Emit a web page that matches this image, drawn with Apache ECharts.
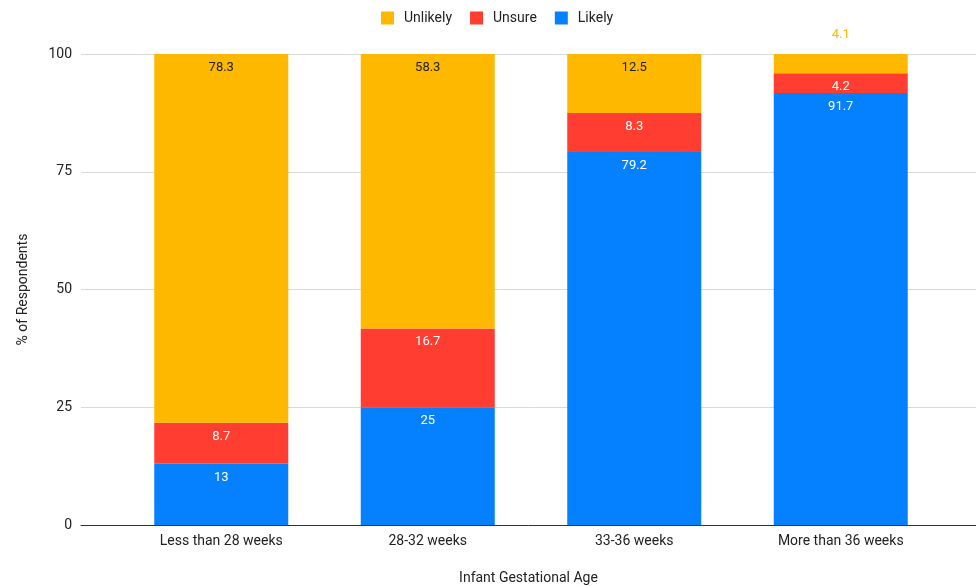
<!DOCTYPE html>
<html>
<head>
<meta charset="utf-8">
<script src="https://cdn.jsdelivr.net/npm/echarts@6/dist/echarts.min.js"></script>
<style>
  html, body { margin: 0; padding: 0; background: #fff; }
  #chart { width: 976px; height: 586px; }
</style>
</head>
<body>
<div id="chart"></div>
<script>
// Share of respondents by infant gestational age
const categories = ['Less than 28 weeks', '28-32 weeks', '33-36 weeks', 'More than 36 weeks'];
const likely = [13, 25, 79.2, 91.7];
const unsure = [8.7, 16.7, 8.3, 4.2];
const unlikely = [78.3, 58.3, 12.5, 4.1];
const yTicks = [0, 25, 50, 75, 100];

const COLORS = { unlikely: '#FFB800', unsure: '#FF3D30', likely: '#0581FF' };
const FONT = 'Roboto, "Liberation Sans", Arial, sans-serif';
const TEXT = '#222';

const chart = echarts.init(document.getElementById('chart'));

function segLabel(color) {
  return {
    show: true,
    position: 'insideTop',
    distance: 7,
    color: color,
    fontSize: 13,
    fontFamily: FONT
  };
}

// Small top segments get their value printed above the bar instead of inside it
const unlikelyData = unlikely.map(v => v < 5 ? {
  value: v,
  label: { position: 'top', distance: 13, color: COLORS.unlikely }
} : v);

chart.setOption({
  animation: false,
  textStyle: { fontFamily: FONT },
  legend: {
    top: 6,
    left: 376,
    itemWidth: 13,
    itemHeight: 13,
    itemGap: 18,
    icon: 'rect',
    textStyle: { fontSize: 14, color: TEXT, fontFamily: FONT, padding: [0, 0, 0, 5] },
    data: ['Unlikely', 'Unsure', 'Likely']
  },
  grid: [
    { left: 81, right: 0, top: 54, bottom: 61, containLabel: false, outerBoundsMode: 'none' },
    { left: 118, right: 32, top: 54, bottom: 61, containLabel: false, outerBoundsMode: 'none' }
  ],
  xAxis: [
    {
      gridIndex: 0, type: 'value', min: 0, max: 1,
      axisLine: { show: true, lineStyle: { color: '#333', width: 1 } },
      axisTick: { show: false }, axisLabel: { show: false }, splitLine: { show: false },
      name: 'Infant Gestational Age', nameLocation: 'middle', nameGap: 46,
      nameTextStyle: { fontSize: 14, color: TEXT, fontFamily: FONT }
    },
    {
      gridIndex: 1, type: 'category', data: categories,
      axisLine: { show: false }, axisTick: { show: false },
      axisLabel: { margin: 9, fontSize: 14, color: TEXT, fontFamily: FONT }
    }
  ],
  yAxis: [
    {
      gridIndex: 0, type: 'value', min: 0, max: 100, interval: 25,
      axisLine: { show: false }, axisTick: { show: false },
      axisLabel: { margin: 9, fontSize: 14, color: TEXT, fontFamily: FONT, verticalAlign: 'middle',
                   formatter: v => yTicks.includes(v) ? String(v) : '' },
      splitLine: { lineStyle: { color: '#d9d9d9', width: 1 } },
      name: '% of Respondents', nameLocation: 'middle', nameGap: 51, nameRotate: 90,
      nameTextStyle: { fontSize: 14, color: TEXT, fontFamily: FONT }
    },
    {
      gridIndex: 1, type: 'value', min: 0, max: 100, show: false
    }
  ],
  series: [
    {
      name: 'Likely', type: 'bar', stack: 'total', xAxisIndex: 1, yAxisIndex: 1,
      barWidth: 134, data: likely, itemStyle: { color: COLORS.likely },
      label: segLabel('#ffffff')
    },
    {
      name: 'Unsure', type: 'bar', stack: 'total', xAxisIndex: 1, yAxisIndex: 1,
      barWidth: 134, data: unsure, itemStyle: { color: COLORS.unsure },
      label: segLabel('#ffffff')
    },
    {
      name: 'Unlikely', type: 'bar', stack: 'total', xAxisIndex: 1, yAxisIndex: 1,
      barWidth: 134, data: unlikelyData, itemStyle: { color: COLORS.unlikely },
      label: segLabel('#222222')
    }
  ]
});
</script>
</body>
</html>
